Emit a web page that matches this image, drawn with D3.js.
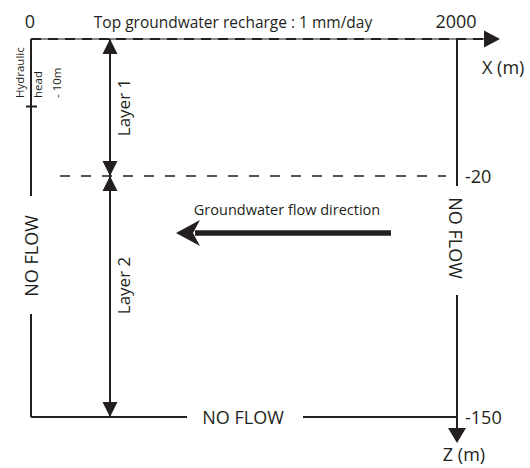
<!DOCTYPE html>
<html lang="en">
<head>
    <meta charset="UTF-8">
    <title>Groundwater model domain</title>
    <script src="https://d3js.org/d3.v7.min.js"></script>
    <style>
        body { margin: 0; background: #fff; }
        text { font-family: "Open Sans", sans-serif; fill: #231f20; }
    </style>
</head>
<body>
    <svg id="chart"></svg>
    <script>
        const width = 530;
        const height = 468;
        const ink = "#231f20";

        // domain extents (m)
        const xTicks = [0, 2000];
        const zTicks = [-20, -150];
        const zBreaks = [0, -20, -150];
        const layerNames = ["Layer 1", "Layer 2"];
        const layerTops = [0, -20];
        const layerBottoms = [-20, -150];
        const headLabels = ["Hydraulic", "head", "- 10m"];
        const headLevel = -10;
        const topLabel = "Top groundwater recharge : 1 mm/day";
        const flowLabel = "Groundwater flow direction";

        const svg = d3.select("#chart")
            .attr("width", width)
            .attr("height", height);

        // schematic (not to scale) -> piecewise scale for depth
        const x = d3.scaleLinear().domain(xTicks).range([31, 457]);
        const z = d3.scaleLinear().domain(zBreaks).range([39, 176, 417]);

        const x0 = x(0), x1 = x(2000);
        const zTop = z(0), zBot = z(-150);

        function line(x1_, y1_, x2_, y2_) {
            return svg.append("line")
                .attr("x1", x1_).attr("y1", y1_)
                .attr("x2", x2_).attr("y2", y2_)
                .attr("stroke", ink)
                .attr("stroke-width", 2);
        }

        function head(tipX, tipY, dir, len, half) {
            // dir: "up","down","right"
            let pts;
            if (dir === "up") pts = [[tipX, tipY], [tipX - half, tipY + len], [tipX + half, tipY + len]];
            if (dir === "down") pts = [[tipX, tipY], [tipX - half, tipY - len], [tipX + half, tipY - len]];
            if (dir === "right") pts = [[tipX, tipY], [tipX - len, tipY - half], [tipX - len, tipY + half]];
            svg.append("path")
                .attr("d", "M" + pts.map(p => p.join(",")).join("L") + "Z")
                .attr("fill", ink);
        }

        // top boundary (X axis) - grey line with dark dashes
        svg.append("line")
            .attr("x1", x0).attr("y1", zTop).attr("x2", 486).attr("y2", zTop)
            .attr("stroke", "#8a8a8a").attr("stroke-width", 2);
        svg.append("line")
            .attr("x1", x0).attr("y1", zTop).attr("x2", 486).attr("y2", zTop)
            .attr("stroke", ink).attr("stroke-width", 2)
            .attr("stroke-dasharray", "10,7");
        head(500, zTop, "right", 16, 8.5);

        // left boundary with gap for label
        line(x0, zTop, x0, 196);
        line(x0, 314, x0, zBot);

        // bottom boundary with gap
        line(x0, zBot, 187, zBot);
        line(303, zBot, x1, zBot);

        // right boundary (Z axis) with gap
        line(x1, zTop, x1, 186);
        line(x1, 295, x1, 428);
        head(x1, 443, "down", 15, 9);

        // layer interface
        svg.append("line")
            .attr("x1", 60).attr("y1", z(-20)).attr("x2", 446).attr("y2", z(-20))
            .attr("stroke", ink).attr("stroke-width", 1.5)
            .attr("stroke-dasharray", "10,11");

        // layer thickness arrows
        const layerX = 110;
        layerNames.forEach((name, i) => {
            const yt = z(layerTops[i]), yb = z(layerBottoms[i]);
            line(layerX, yt, layerX, yb);
            head(layerX, yt, "up", 15, 7.5);
            head(layerX, yb, "down", 15, 7.5);
            svg.append("text")
                .attr("transform", `translate(130,${(yt + yb) / 2 + (i === 0 ? 0 : -11)}) rotate(-90)`)
                .attr("text-anchor", "middle")
                .style("font-size", "17px")
                .text(name);
        });

        // hydraulic head marker
        line(26, z(headLevel) - 1, 37, z(headLevel) - 1);
        [24, 42, 61].forEach((bx, i) => {
            svg.append("text")
                .attr("transform", `translate(${bx},98) rotate(-90)`)
                .attr("text-anchor", "start")
                .style("font-size", "11.5px")
                .text(headLabels[i]);
        });

        // axis numbers
        svg.selectAll(".xtick")
            .data(xTicks)
            .enter().append("text")
            .attr("class", "xtick")
            .attr("x", d => x(d) - 1)
            .attr("y", 28)
            .attr("text-anchor", "middle")
            .style("font-size", "18px")
            .text(d => d);

        svg.selectAll(".ztick")
            .data(zTicks)
            .enter().append("text")
            .attr("class", "ztick")
            .attr("x", 465)
            .attr("y", d => z(d) + 7)
            .style("font-size", "18px")
            .text(d => d);

        svg.append("text")
            .attr("x", 482).attr("y", 74)
            .style("font-size", "18px")
            .text("X (m)");
        svg.append("text")
            .attr("x", 464).attr("y", 461)
            .attr("text-anchor", "middle")
            .style("font-size", "18px")
            .text("Z (m)");

        svg.append("text")
            .attr("x", 233).attr("y", 28)
            .attr("text-anchor", "middle")
            .style("font-size", "15.5px")
            .text(topLabel);

        // NO FLOW labels
        svg.append("text")
            .attr("x", 243).attr("y", zBot + 7)
            .attr("text-anchor", "middle")
            .style("font-size", "18px")
            .text("NO FLOW");
        svg.append("text")
            .attr("transform", `translate(38,256) rotate(-90)`)
            .attr("text-anchor", "middle")
            .style("font-size", "18px")
            .text("NO FLOW");
        svg.append("text")
            .attr("transform", `translate(449,238) rotate(90)`)
            .attr("text-anchor", "middle")
            .style("font-size", "18px")
            .text("NO FLOW");

        // flow direction
        svg.append("text")
            .attr("x", 287).attr("y", 215)
            .attr("text-anchor", "middle")
            .style("font-size", "14.5px")
            .text(flowLabel);
        svg.append("line")
            .attr("x1", 391).attr("y1", 233).attr("x2", 195).attr("y2", 233)
            .attr("stroke", ink).attr("stroke-width", 5.5);
        svg.append("path")
            .attr("d", "M176,233 L200,220 L193,233 L200,246 Z")
            .attr("fill", ink);
    </script>
</body>
</html>
